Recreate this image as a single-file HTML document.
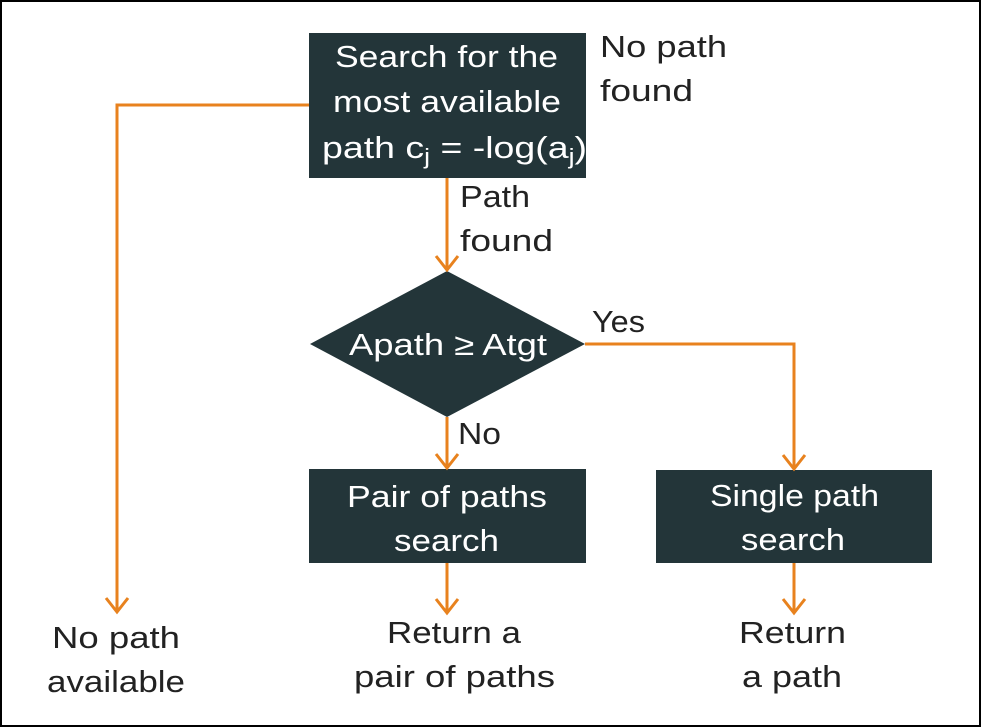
<!DOCTYPE html>
<html><head><style>
html,body{margin:0;padding:0;background:#fff}
svg{display:block}
text{font-family:"Liberation Sans",sans-serif;font-size:31px}
.w{fill:#fff}.k{fill:#222}
</style></head><body>
<svg width="981" height="727" viewBox="0 0 981 727">
<rect x="1" y="1" width="979" height="725" fill="#fff" stroke="#000" stroke-width="2"/>
<g fill="#233539">
<rect x="309" y="33" width="277" height="145"/>
<polygon points="310,344 447,271 585,344 447,417"/>
<rect x="309" y="469" width="277" height="94"/>
<rect x="656" y="470" width="276" height="93"/>
</g>
<g stroke="#e8821e" stroke-width="3" fill="none">
<polyline points="309,105 117,105 117,612"/>
<polyline points="106,598 117,612 128,598"/>
<line x1="447" y1="178" x2="447" y2="270"/>
<polyline points="436,256 447,270 458,256"/>
<polyline points="585,344 794,344 794,469"/>
<polyline points="783,455 794,469 805,455"/>
<line x1="447" y1="417" x2="447" y2="468"/>
<polyline points="436,454 447,468 458,454"/>
<line x1="447" y1="563" x2="447" y2="613"/>
<polyline points="436,599 447,613 458,599"/>
<line x1="794" y1="563" x2="794" y2="613"/>
<polyline points="783,599 794,613 805,599"/>
</g>
<g class="w" lengthAdjust="spacingAndGlyphs">
<text x="335" y="67" textLength="223" lengthAdjust="spacingAndGlyphs">Search for the</text>
<text x="333" y="112" textLength="228" lengthAdjust="spacingAndGlyphs">most available</text>
<text x="322" y="158" textLength="265" lengthAdjust="spacingAndGlyphs">path c<tspan font-size="22" dy="6">j</tspan><tspan dy="-6"> = -log(a</tspan><tspan font-size="22" dy="6">j</tspan><tspan dy="-6">)</tspan></text>
<text x="349" y="355" textLength="198" lengthAdjust="spacingAndGlyphs">Apath ≥ Atgt</text>
<text x="347" y="507" textLength="200" lengthAdjust="spacingAndGlyphs">Pair of paths</text>
<text x="394" y="551" textLength="105" lengthAdjust="spacingAndGlyphs">search</text>
<text x="710" y="506" textLength="169" lengthAdjust="spacingAndGlyphs">Single path</text>
<text x="741" y="550" textLength="104" lengthAdjust="spacingAndGlyphs">search</text>
</g>
<g class="k">
<text x="600" y="57" textLength="127" lengthAdjust="spacingAndGlyphs">No path</text>
<text x="600" y="101" textLength="93" lengthAdjust="spacingAndGlyphs">found</text>
<text x="460" y="207" textLength="70" lengthAdjust="spacingAndGlyphs">Path</text>
<text x="460" y="251" textLength="93" lengthAdjust="spacingAndGlyphs">found</text>
<text x="592" y="332" textLength="53" lengthAdjust="spacingAndGlyphs">Yes</text>
<text x="458" y="444" textLength="43" lengthAdjust="spacingAndGlyphs">No</text>
<text x="52" y="648" textLength="128" lengthAdjust="spacingAndGlyphs">No path</text>
<text x="47" y="692" textLength="138" lengthAdjust="spacingAndGlyphs">available</text>
<text x="387" y="643" textLength="134" lengthAdjust="spacingAndGlyphs">Return a</text>
<text x="354" y="687" textLength="201" lengthAdjust="spacingAndGlyphs">pair of paths</text>
<text x="739" y="643" textLength="107" lengthAdjust="spacingAndGlyphs">Return</text>
<text x="742" y="687" textLength="100" lengthAdjust="spacingAndGlyphs">a path</text>
</g>
</svg>
</body></html>
